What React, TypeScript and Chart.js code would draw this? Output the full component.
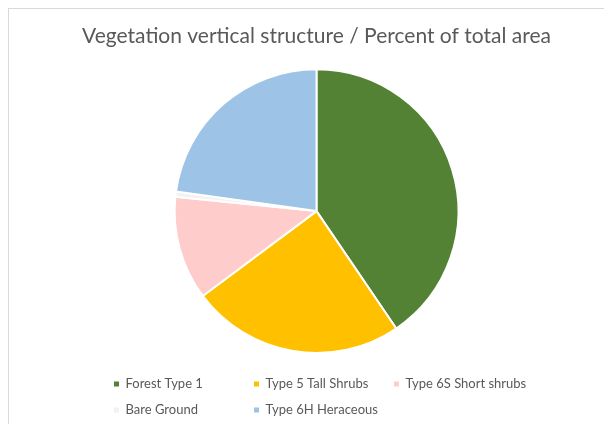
import { useEffect, useRef } from "react";
import { Chart, registerables } from "chart.js";

Chart.register(...registerables);

const categories = [
  "Forest Type 1",
  "Type 5 Tall Shrubs",
  "Type 6S Short shrubs",
  "Bare Ground",
  "Type 6H Heraceous",
];
const percentValues = [40.5, 24.3, 11.8, 0.6, 22.8];
const sliceColors = ["#548235", "#FFC000", "#FFCCCC", "#F2F2F2", "#9DC3E6"];
const chartTitle = "Vegetation vertical structure / Percent of total area";

const FONT = "Lato, 'Open Sans', sans-serif";

const gridLegend = {
  id: "gridLegend",
  afterDraw(chart: any) {
    const ctx = chart.ctx as CanvasRenderingContext2D;
    const area = chart.chartArea;
    const cx = (area.left + area.right) / 2;
    const labels: string[] = chart.data.labels;
    const colors: string[] = chart.data.datasets[0].backgroundColor;
    ctx.save();
    ctx.font = `13px ${FONT}`;
    ctx.textBaseline = "middle";
    ctx.textAlign = "left";
    labels.forEach((label, i) => {
      const col = i % 3;
      const row = Math.floor(i / 3);
      const x = cx - 200 + col * 140;
      const y = 375 + row * 26;
      ctx.fillStyle = colors[i];
      ctx.fillRect(x - 2.5, y - 2.5, 5, 5);
      ctx.fillStyle = "#595959";
      ctx.fillText(label, x + 9, y);
    });
    ctx.restore();
  },
};

export default function App() {
  const ref = useRef<HTMLCanvasElement>(null);
  useEffect(() => {
    if (!ref.current) return;
    const chart = new Chart(ref.current, {
      type: "pie",
      data: {
        labels: categories,
        datasets: [
          {
            data: percentValues,
            backgroundColor: sliceColors,
            borderColor: "#ffffff",
            borderWidth: 2,
          },
        ],
      },
      options: {
        responsive: false,
        animation: false,
        layout: { padding: { left: 12, right: 0, top: 0, bottom: 70 } },
        plugins: {
          legend: { display: false },
          tooltip: { enabled: false },
          title: {
            display: true,
            text: chartTitle,
            color: "#595959",
            font: { family: FONT, size: 21, weight: "normal" },
            padding: { top: 15, bottom: 19 },
          },
        },
      },
      plugins: [gridLegend],
    });
    return () => chart.destroy();
  }, []);
  return (
    <div
      style={{
        width: 604,
        height: 416,
        borderTop: "1px solid #D9D9D9",
        borderLeft: "1px solid #D9D9D9",
        boxSizing: "border-box",
        overflow: "hidden",
      }}
    >
      <canvas ref={ref} width={603} height={415} style={{ display: "block" }} />
    </div>
  );
}
